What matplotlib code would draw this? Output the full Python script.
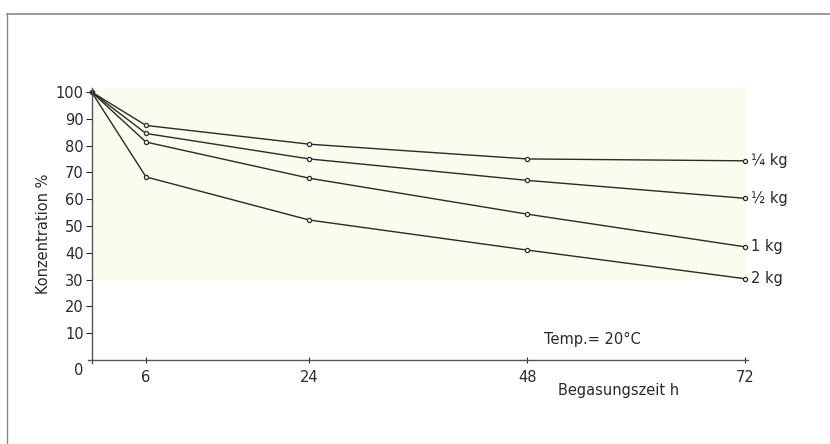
import matplotlib
matplotlib.use("Agg")
import matplotlib.pyplot as plt
from matplotlib.lines import Line2D
from matplotlib.patches import Rectangle

# Begasungszeit (h) and concentration (%) per dose
hours = [0, 6, 24, 48, 72]
conc_quarter = [100, 87.5, 80.5, 75, 74.3]
conc_half = [100, 84.5, 75, 67, 60.3]
conc_one = [100, 81.3, 67.8, 54.4, 42.2]
conc_two = [100, 68.3, 52.2, 41, 30.3]
labels = ["¼ kg", "½ kg", "1 kg", "2 kg"]
series = [conc_quarter, conc_half, conc_one, conc_two]

xticks = [6, 24, 48, 72]
yticks = [10, 20, 30, 40, 50, 60, 70, 80, 90, 100]

ink = "#2a2a2a"
plt.rcParams["font.family"] = "DejaVu Sans"

fig = plt.figure(figsize=(8.3, 4.44), dpi=100)
fig.patch.set_facecolor("white")

# scanned page edge lines
fig.add_artist(Line2D([0.008, 1.0], [0.969, 0.969], color="#888888", lw=1.2))
fig.add_artist(Line2D([0.008, 0.008], [0.0, 0.969], color="#888888", lw=1.0))

ax = fig.add_axes([0.1059, 0.182, 0.7953, 0.620])
ax.set_facecolor("none")
# faint paper tint of the scan
fig.add_artist(Rectangle((0.111, 0.369), 0.789, 0.432, transform=fig.transFigure,
                         facecolor="#fbfbee", edgecolor="none", zorder=-1))

for vals, lab in zip(series, labels):
    ax.plot(hours, vals, color=ink, lw=1.0, marker="o", markersize=3.0,
            markerfacecolor="white", markeredgecolor=ink, markeredgewidth=0.9,
            markevery=[1, 2, 3, 4])
    ax.text(hours[-1] + 0.6, vals[-1], lab, fontsize=10.5, color=ink,
            va="center", ha="left")
ax.plot([0], [100], "o", color=ink, markersize=3)

ax.set_xlim(-0.4, 72.3)
ax.set_ylim(-1.2, 101.5)
ax.spines["left"].set_position(("data", 0))
ax.spines["bottom"].set_position(("data", 0))
for s in ["top", "right"]:
    ax.spines[s].set_visible(False)
for s in ["left", "bottom"]:
    ax.spines[s].set_color("#555555")
    ax.spines[s].set_linewidth(1.0)

ax.set_xticks(xticks)
ax.set_yticks(yticks)
ax.tick_params(axis="y", direction="out", length=4, width=0.8, pad=1.5,
               labelsize=10.5, colors=ink)
ax.tick_params(axis="x", direction="inout", length=4, width=0.8, pad=5,
               labelsize=10.5, colors=ink)
ax.text(-0.9, -1.2, "0", fontsize=10.5, color=ink, ha="right", va="top")

ax.set_ylabel("Konzentration %", fontsize=10.5, color=ink)
ax.yaxis.set_label_coords(-0.056, 0.47)
ax.text(58, -8.5, "Begasungszeit h", fontsize=10.5, color=ink,
        ha="center", va="top")
ax.text(55.2, 7.5, "Temp.= 20°C", fontsize=10.5, color=ink,
        ha="center", va="center")

fig.savefig("out.png", dpi=100)
